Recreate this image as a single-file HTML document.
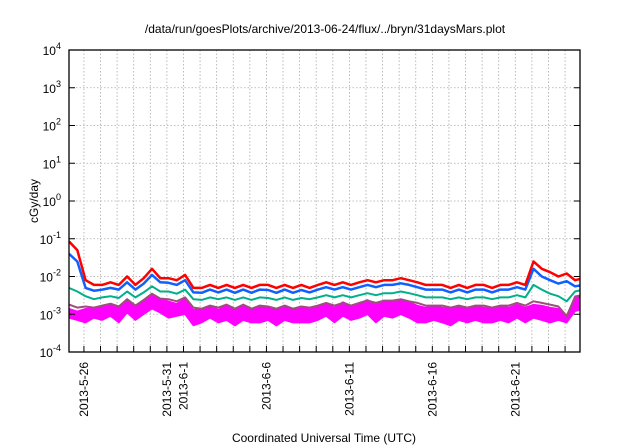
<!DOCTYPE html>
<html><head><meta charset="utf-8"><style>
body{margin:0;background:#fff;}
svg{display:block;font-family:"Liberation Sans",sans-serif;}
</style></head><body>
<svg id="chart" width="640" height="448" viewBox="0 0 640 448" xmlns="http://www.w3.org/2000/svg">
<text x="325" y="33" font-size="12" text-anchor="middle">/data/run/goesPlots/archive/2013-06-24/flux/../bryn/31daysMars.plot</text>
<text transform="translate(38,201) rotate(-90)" font-size="12" text-anchor="middle">cGy/day</text>
<text x="324" y="442" font-size="12" text-anchor="middle">Coordinated Universal Time (UTC)</text>
<g id="grid"></g><g id="series"></g><g id="axes"></g>
</svg>
<script>
const dayLabels = ["2013-5-26","2013-5-31","2013-6-1","2013-6-6","2013-6-11","2013-6-16","2013-6-21"];
const dayLabelOffsets = [0.9,5.9,6.9,11.9,16.9,21.9,26.9];
const yTicks = [-4,-3,-2,-1,0,1,2,3,4];
const red = [0.085,0.05,0.008,0.006,0.006,0.007,0.006,0.010,0.006,0.009,
0.016,0.009,0.009,0.008,0.011,0.005,0.005,0.006,0.005,0.006,
0.005,0.006,0.005,0.006,0.006,0.005,0.006,0.005,0.006,0.005,
0.006,0.007,0.006,0.007,0.006,0.007,0.008,0.007,0.008,0.008,
0.009,0.008,0.007,0.006,0.006,0.006,0.005,0.006,0.005,0.006,
0.006,0.005,0.006,0.006,0.007,0.006,0.025,0.016,0.013,0.010,
0.012,0.008,0.009];
const blue = [0.04,0.025,0.005,0.0042,0.0045,0.005,0.0045,0.007,0.0045,0.0065,
0.011,0.007,0.0068,0.006,0.008,0.0038,0.0037,0.0045,0.0038,0.0045,
0.0037,0.0045,0.0037,0.0045,0.0044,0.0037,0.0045,0.0037,0.0044,0.0038,
0.0045,0.0052,0.0045,0.0052,0.0045,0.0052,0.006,0.0052,0.006,0.006,
0.0066,0.006,0.0052,0.0045,0.0045,0.0045,0.0038,0.0045,0.0038,0.0045,
0.0045,0.0038,0.0045,0.0045,0.0052,0.0045,0.016,0.010,0.008,0.0065,
0.0075,0.0055,0.006];
const teal = [0.005,0.004,0.003,0.0025,0.0028,0.003,0.0027,0.004,0.0028,0.0038,
0.0055,0.004,0.004,0.0035,0.0045,0.0025,0.0024,0.0028,0.0025,0.0028,
0.0024,0.0028,0.0024,0.0028,0.0027,0.0024,0.0028,0.0024,0.0027,0.0025,
0.0028,0.0032,0.0028,0.0032,0.0028,0.0032,0.0036,0.0032,0.0036,0.0036,
0.004,0.0036,0.0032,0.0028,0.0028,0.0028,0.0025,0.0028,0.0025,0.0028,
0.0028,0.0025,0.0028,0.0028,0.0032,0.0028,0.006,0.0045,0.0035,0.003,
0.0022,0.004,0.0045];
const purple = [0.0018,0.0015,0.0016,0.0015,0.0017,0.0019,0.0016,0.0025,0.0017,0.0024,
0.0035,0.0026,0.0025,0.0022,0.0028,0.0015,0.0014,0.0017,0.0015,0.0018,
0.0014,0.0018,0.0014,0.0017,0.0016,0.0014,0.0017,0.0014,0.0016,0.0015,
0.0017,0.002,0.0017,0.002,0.0017,0.002,0.0023,0.002,0.0023,0.0023,
0.0025,0.0022,0.002,0.0017,0.0017,0.0017,0.0015,0.0017,0.0015,0.0017,
0.0017,0.0015,0.0017,0.0017,0.002,0.0017,0.0022,0.002,0.0018,0.0016,
0.0009,0.0028,0.003];
const magenta = [0.0014,0.0012,0.0014,0.0015,0.0016,0.0019,0.0015,0.0025,0.0016,0.0023,
0.0034,0.0026,0.0022,0.0019,0.0026,0.0013,0.0014,0.0017,0.0013,0.0018,
0.0013,0.0018,0.0014,0.0017,0.0015,0.0013,0.0017,0.0014,0.0015,0.0014,
0.0017,0.0020,0.0015,0.0021,0.0017,0.0020,0.0024,0.0018,0.0022,0.0021,
0.0024,0.0021,0.0017,0.0015,0.0017,0.0015,0.0014,0.0017,0.0014,0.0017,
0.0015,0.0014,0.0017,0.0015,0.0018,0.0015,0.0018,0.0017,0.0015,0.0014,
0.0009,0.0030,0.0033];
const magentaLow = [0.0008,0.0007,0.0006,0.0008,0.0007,0.0009,0.0006,0.0011,0.0007,0.0010,
0.0014,0.0011,0.0008,0.0009,0.0010,0.0005,0.0006,0.0008,0.0006,0.0007,
0.0005,0.0007,0.0006,0.0006,0.0007,0.0005,0.0007,0.0006,0.0006,0.0006,
0.0007,0.0009,0.0006,0.0009,0.0007,0.0008,0.0010,0.0006,0.0009,0.0008,
0.0010,0.0008,0.0006,0.0006,0.0007,0.0006,0.0005,0.0007,0.0006,0.0007,
0.0006,0.0006,0.0007,0.0006,0.0008,0.0006,0.0008,0.0007,0.0006,0.0007,
0.0006,0.0012,0.0014];
const SVGNS="http://www.w3.org/2000/svg";
const L=69,R=580,T=50,B=352,days=30.8;
const xs=t=>L+(t/days)*(R-L);
const ys=v=>B-(Math.log10(v)+4)/8*(B-T);
function mk(tag,attrs,parent){const e=document.createElementNS(SVGNS,tag);for(const k in attrs)e.setAttribute(k,attrs[k]);parent.appendChild(e);return e;}
const grid=document.getElementById('grid'),axes=document.getElementById('axes'),ser=document.getElementById('series');
for(let d=0;d<31;d++){const t=0.9+d-1; if(t<=0||t>=days)continue;
 const g=mk('line',{x1:xs(t),x2:xs(t),y1:T,y2:B,stroke:'#aaa','stroke-width':0.8,'stroke-dasharray':'1.5,2'},grid);
 
 
 const tk=mk('line',{x1:xs(t),x2:xs(t),y1:B,y2:B-6,stroke:'#000','stroke-width':1},axes);
 
 
}
yTicks.forEach(p=>{const y=B-(p+4)/8*(B-T);
 if(p>-4&&p<4){const g=mk('line',{x1:L,x2:R,y1:y,y2:y,stroke:'#aaa','stroke-width':0.8,'stroke-dasharray':'1.5,2'},grid);
 
 }
 const tk=mk('line',{x1:L,x2:L+6,y1:y,y2:y,stroke:'#000'},axes);
 
 
 const tk2=mk('line',{x1:R,x2:R-6,y1:y,y2:y,stroke:'#000'},axes);
 
 
 const tx=mk('text',{x:L-8,y:y+5,'font-size':12,'text-anchor':'end'},axes);
 
 
 tx.textContent='10';
 const sup=mk('tspan',{dy:-6,'font-size':9},tx); sup.textContent=String(p);
});
dayLabels.forEach((lab,i)=>{const x=xs(dayLabelOffsets[i]);
 const tx=mk('text',{transform:`translate(${x+4},362) rotate(-90)`,'font-size':12,'text-anchor':'end'},axes);
 
 
 tx.textContent=lab;});
const fr=mk('rect',{x:L,y:T,width:R-L,height:B-T,fill:'none',stroke:'#000','stroke-width':1.3},axes);


const clip=mk('clipPath',{id:'pc'},ser);mk('rect',{x:L,y:T,width:R-L,height:B-T},clip);
function line(arr,color,w,name){const pts=arr.map((v,i)=>xs(i*0.5).toFixed(1)+','+ys(v).toFixed(1)).join(' ');
 const p=mk('polyline',{points:pts,fill:'none',stroke:color,'stroke-width':w,'stroke-linejoin':'round','clip-path':'url(#pc)'},ser);
 
 }
const bandPts=magenta.map((v,i)=>xs(i*0.5).toFixed(1)+','+ys(v).toFixed(1))
 .concat(magentaLow.map((v,i)=>xs(i*0.5).toFixed(1)+','+ys(v).toFixed(1)).reverse()).join(' ');
const band=mk('polygon',{points:bandPts,fill:'#ff00ff',stroke:'#ff00ff','stroke-width':1.5,'stroke-linejoin':'round','clip-path':'url(#pc)'},ser);


line(purple,'#9b4f7a',2,'purple-series');
line(teal,'#00b08a',2,'teal-series');
line(blue,'#1060ff',2.5,'blue-series');
line(red,'#ff0000',2.5,'red-series');
</script>
</body></html>
